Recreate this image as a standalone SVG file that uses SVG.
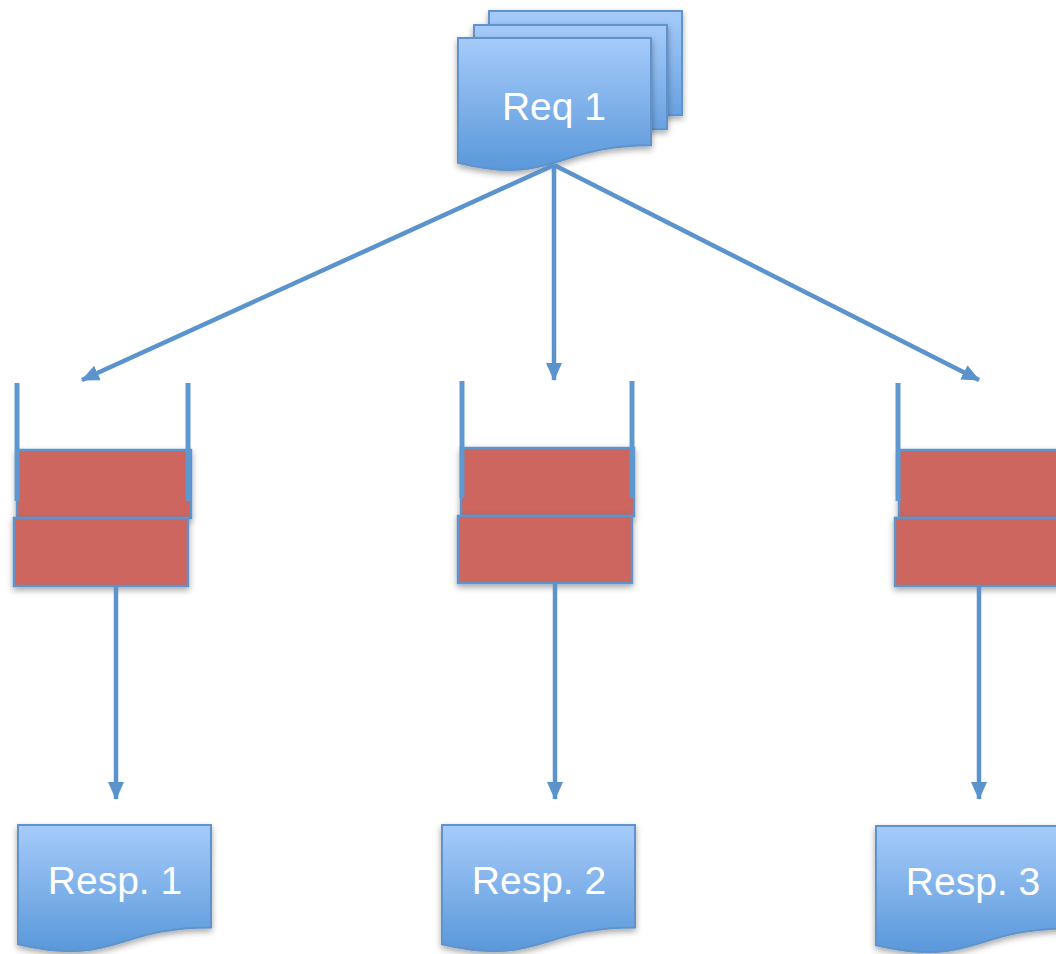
<svg xmlns="http://www.w3.org/2000/svg" width="1056" height="954" viewBox="0 0 1056 954">
<defs>
<linearGradient id="docg" x1="0" y1="0" x2="0" y2="1">
<stop offset="0" stop-color="#A6CBFA"/>
<stop offset="1" stop-color="#5A98DA"/>
</linearGradient>
<filter id="sh" x="-10%" y="-10%" width="130%" height="130%">
<feDropShadow dx="0" dy="3" stdDeviation="3" flood-color="#000" flood-opacity="0.35"/>
</filter>
<marker id="ah" markerUnits="userSpaceOnUse" markerWidth="18" markerHeight="18" viewBox="0 0 18 18" refX="17" refY="9" orient="auto">
<path d="M0,1 L18,9 L0,17 Z" fill="#5B93CC"/>
</marker>
<path id="doc" d="M0,0 L193,0 L193,104 C96.5,104 96.5,144 0,121 Z"/>
</defs>
<style>
.doc{fill:url(#docg);stroke:#5F93CB;stroke-width:2;filter:url(#sh)}
.red{fill:#CC665F;stroke:#5F93CB;stroke-width:2.5;filter:url(#sh)}
.wall{stroke:#5F98D0;stroke-width:5;fill:none}
.conn{stroke:#5B93CC;stroke-width:4.5;fill:none}
.lbl{font-family:"Liberation Sans",Arial,sans-serif;font-size:39px;fill:#fff;text-anchor:middle}
</style>
<g id="req1">
<use href="#doc" class="doc" transform="translate(489,11) scale(1,1)"/>
<use href="#doc" class="doc" transform="translate(474,25) scale(1,1)"/>
<use href="#doc" class="doc" transform="translate(458,38) scale(1,1.03)"/>
<text class="lbl" x="554" y="120">Req 1</text>
</g>
<g id="queue1">
<rect class="red" x="17" y="450" width="174" height="68"/>
<rect class="red" x="14" y="518" width="174" height="68"/>
<line class="wall" x1="17" y1="383" x2="17" y2="501"/>
<line class="wall" x1="188" y1="383" x2="188" y2="501"/>
</g>
<g id="queue2">
<rect class="red" x="461" y="448" width="173" height="68"/>
<rect class="red" x="458" y="516" width="174" height="67"/>
<line class="wall" x1="462" y1="381" x2="462" y2="498"/>
<line class="wall" x1="632" y1="381" x2="632" y2="498"/>
</g>
<g id="queue3">
<rect class="red" x="899" y="450" width="174" height="68"/>
<rect class="red" x="895" y="518" width="174" height="68"/>
<line class="wall" x1="898" y1="383" x2="898" y2="501"/>
</g>
<g id="resp1">
<use href="#doc" class="doc" transform="translate(18,825) scale(1,0.985)"/>
<text class="lbl" x="115" y="894">Resp. 1</text>
</g>
<g id="resp2">
<use href="#doc" class="doc" transform="translate(442,825) scale(1,0.985)"/>
<text class="lbl" x="539" y="894">Resp. 2</text>
</g>
<g id="resp3">
<use href="#doc" class="doc" transform="translate(876,826) scale(1,0.985)"/>
<text class="lbl" x="973" y="895">Resp. 3</text>
</g>
<g id="connectors">
<line class="conn" x1="554" y1="165" x2="82" y2="380" marker-end="url(#ah)"/>
<line class="conn" x1="554" y1="165" x2="554" y2="380" marker-end="url(#ah)"/>
<line class="conn" x1="554" y1="165" x2="979" y2="380" marker-end="url(#ah)"/>
<line class="conn" x1="116" y1="586" x2="116" y2="799" marker-end="url(#ah)"/>
<line class="conn" x1="555" y1="583" x2="555" y2="799" marker-end="url(#ah)"/>
<line class="conn" x1="979" y1="586" x2="979" y2="799" marker-end="url(#ah)"/>
</g>
</svg>
